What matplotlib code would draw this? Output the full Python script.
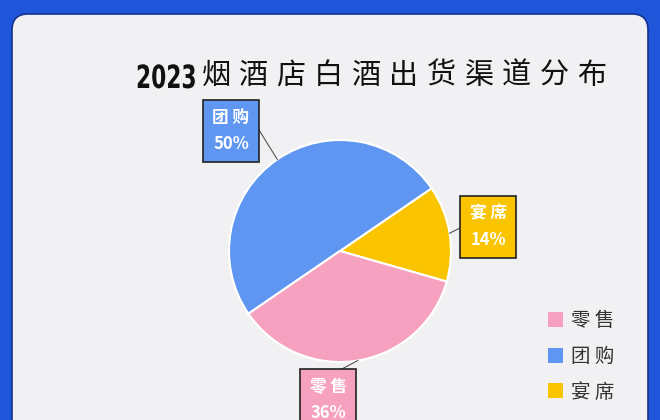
import matplotlib.pyplot as plt
from matplotlib.patches import FancyBboxPatch, Patch, PathPatch
from matplotlib.textpath import TextPath
from matplotlib.font_manager import FontProperties
from matplotlib.transforms import Affine2D
import numpy as np

# 数据
categories = ['宴席', '团购', '零售']
shares = [14, 50, 36]
colors = ['#fac400', '#5f96f1', '#f6a1bf']
legend_order = ['零售', '团购', '宴席']
title_year = '2023'
title_text = '烟酒店白酒出货渠道分布'

cjk = ['Noto Sans CJK SC', 'DejaVu Sans']
plt.rcParams['font.family'] = cjk

fig = plt.figure(figsize=(6.6, 4.2), dpi=100)
fig.patch.set_facecolor('#1f55d8')
ax = fig.add_axes([0, 0, 1, 1])

# 内部浅灰圆角背景
bg = FancyBboxPatch((12, -40), 636, 446, boxstyle='round,pad=0,rounding_size=16',
                    facecolor='#f1f1f3', edgecolor='#16338f', linewidth=1.2, zorder=0)
ax.add_patch(bg)

# 饼图
cx, cy, r = 340, 169, 111
wedges, _ = ax.pie(shares, colors=colors, startangle=-16, counterclock=True,
                   center=(cx, cy), radius=r,
                   wedgeprops=dict(edgecolor='white', linewidth=1.5))

# 标签框位置
box_pos = {'宴席': (488, 193), '团购': (231, 289), '零售': (328, 20)}
line_end = {'宴席': (460, 192), '团购': (259, 290), '零售': (340, 50)}

for w, name, val, col in zip(wedges, categories, shares, colors):
    mid = np.deg2rad((w.theta1 + w.theta2) / 2)
    px, py = cx + r * np.cos(mid), cy + r * np.sin(mid)
    ex, ey = line_end[name]
    ax.plot([px, ex], [py, ey], color='#555555', lw=0.8, zorder=3)
    bx, by = box_pos[name]
    ax.text(bx, by, ' '.join(name) + '\n' + f'{val}%', ha='center', va='center',
            color='white', fontsize=12, fontweight='bold', linespacing=1.6,
            bbox=dict(boxstyle='square,pad=0.55', facecolor=col,
                      edgecolor='#222222', linewidth=1.2), zorder=4)

# 标题：数字用压窄的粗体
tp = TextPath((0, 0), title_year, size=32,
              prop=FontProperties(family='DejaVu Sans', weight='bold'))
tr = Affine2D().scale(0.68, 1.0).translate(136, 332)
ax.add_patch(PathPatch(tr.transform_path(tp), facecolor='#111111', edgecolor='none'))
for i, ch in enumerate(title_text):
    ax.text(216 + i * 37.6, 344, ch, ha='center', va='center', fontsize=21,
            color='#111111')

# 图例
handles = [Patch(facecolor=colors[categories.index(n)], edgecolor='none') for n in legend_order]
ax.legend(handles, [' '.join(n) for n in legend_order], loc='upper left',
          bbox_to_anchor=(530, 127), bbox_transform=ax.transData,
          frameon=False, fontsize=14, handlelength=0.8, handleheight=0.8,
          labelspacing=0.75, handletextpad=0.4, labelcolor='#333333')

ax.set_xlim(0, 660)
ax.set_ylim(0, 420)
ax.set_aspect('equal')
ax.axis('off')

fig.savefig('out.png', dpi=100, facecolor=fig.get_facecolor())
